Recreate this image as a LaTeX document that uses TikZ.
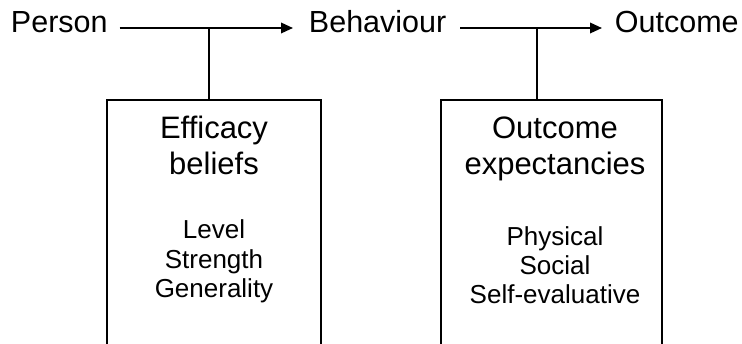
\documentclass[tikz,border=0pt]{standalone}
\usepackage{fontspec}
\setmainfont{Liberation Sans}
\usetikzlibrary{arrows.meta}
\begin{document}
\begin{tikzpicture}[x=1pt,y=-1pt,line width=1.9pt,
  lbl/.style={font=\fontsize{30.5}{32}\selectfont,inner sep=0pt,anchor=base west},
  ttl/.style={font=\fontsize{31}{36}\selectfont,inner sep=0pt,anchor=base},
  lst/.style={font=\fontsize{26}{30}\selectfont,inner sep=0pt,anchor=base},
  boxx/.style={draw,line width=1.9pt,minimum height=260pt,anchor=north,inner sep=0pt},
  arr/.style={-{Triangle[length=12pt,width=10.5pt]}},
  conn/.style={line width=1.9pt}]
\useasboundingbox (0,0) rectangle (742,344);
\clip (0,0) rectangle (742,344);
% top row
\node[lbl] (person) at (10,33) {Person};
\node[lbl] (behav) at (308,33) {Behaviour};
\node[lbl] (outc) at (614,33) {Outcome};
\draw[arr,shorten <=11pt,shorten >=15pt] ([yshift=5pt]person.base east) -- ([yshift=5pt]behav.base west);
\draw[arr,shorten <=13pt,shorten >=12pt] ([yshift=5pt]behav.base east) -- ([yshift=5pt]outc.base west);
% boxes
\node[boxx,minimum width=214pt] (eff) at (214,99) {};
\node[boxx,minimum width=221pt] (oexp) at (551.5,99) {};
\coordinate (j1) at (209,28);
\coordinate (j2) at (537,28);
\draw[conn] (j1) -- (j1 |- eff.north);
\draw[conn] (j2) -- (j2 |- oexp.north);
% box 1 text
\node[ttl] (e1) at (214,139) {Efficacy};
\node[ttl] (e2) at (214,175) {beliefs};
\node[lst] (e3) at (214,239) {Level};
\node[lst] (e4) at (214,269) {Strength};
\node[lst] (e5) at (214,298) {Generality};
% box 2 text
\node[ttl] (o1) at (555,139) {Outcome};
\node[ttl] (o2) at (555,175) {expectancies};
\node[lst] (o3) at (555,246) {Physical};
\node[lst] (o4) at (555,275) {Social};
\node[lst] (o5) at (555,304) {Self-evaluative};
\end{tikzpicture}
\end{document}
